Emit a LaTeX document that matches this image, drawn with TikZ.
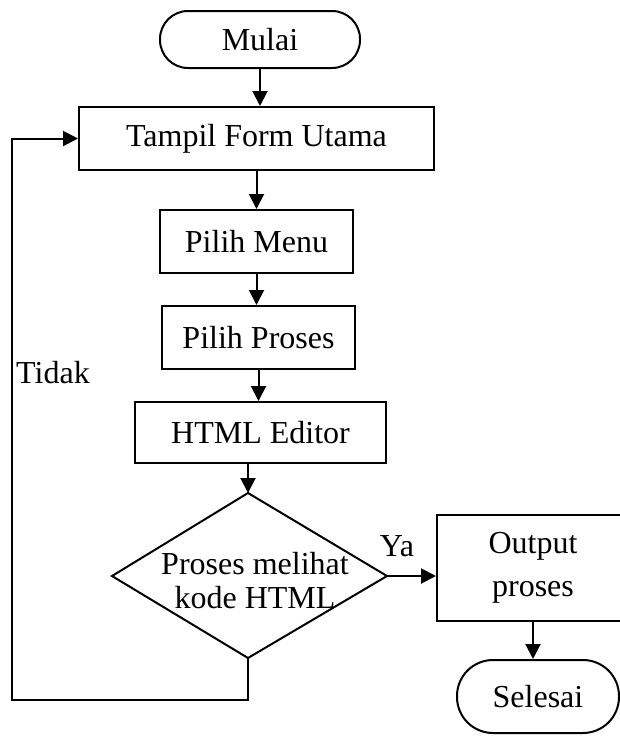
\documentclass[tikz,border=0pt]{standalone}
\usepackage{fontspec}
\setmainfont{Liberation Serif}
\usetikzlibrary{arrows.meta}
\begin{document}
\begin{tikzpicture}[x=1pt,y=-1pt,
  every node/.style={font=\fontsize{32pt}{38pt}\selectfont, inner sep=0pt},
  procbox/.style={draw, line width=2pt, rectangle},
  termbox/.style={draw, line width=2pt, rectangle, rounded corners=28pt},
  flow/.style={line width=2pt, -{Triangle[length=15pt,width=15pt]}},
  plain/.style={line width=2pt}]
\useasboundingbox (0,0) rectangle (620,736);
\node[termbox, minimum width=200pt, minimum height=57pt] (mulai) at (260,39.5) {Mulai};
\node[procbox, minimum width=355pt, minimum height=63pt] (tampil) at (256.5,138.5) {Tampil Form Utama};
\node[procbox, minimum width=193pt, minimum height=63pt] (menu) at (256.5,241.5) {Pilih Menu};
\node[procbox, minimum width=193pt, minimum height=63pt] (proses) at (258.5,337.5) {Pilih Proses};
\node[procbox, minimum width=251pt, minimum height=61pt] (html) at (260.5,432.5) {HTML Editor};
\coordinate (dT) at (248,493);
\coordinate (dR) at (387,576);
\coordinate (dB) at (248,658);
\coordinate (dL) at (112,576);
\draw[plain, line join=miter] (dT) -- (dR) -- (dB) -- (dL) -- cycle;
\node[align=center, font=\fontsize{32pt}{34pt}\selectfont] (dec) at (255,581) {Proses melihat\\kode HTML};
\node[procbox, minimum width=192pt, minimum height=106pt, align=center, font=\fontsize{32pt}{43pt}\selectfont] (output) at (533,568) {Output\\proses};
\node[termbox, rounded corners=36pt, minimum width=162pt, minimum height=73pt] (selesai) at (538,696.5) {Selesai};
\node (ya) at (397,546) {Ya};
\node (tidak) at (53,373) {Tidak};
\coordinate (lc1) at (248,700);
\coordinate (lc2) at (12,700);
\draw[flow] (mulai.south) -- (mulai.south |- tampil.north);
\draw[flow] (menu.north |- tampil.south) -- (menu.north);
\draw[flow] (menu.south) -- (menu.south |- proses.north);
\draw[flow] (proses.south) -- (proses.south |- html.north);
\draw[flow] (dT |- html.south) -- (dT);
\draw[flow] (dR) -- (dR -| output.west);
\draw[flow] (output.south) -- (output.south |- selesai.north);
\draw[flow] (dB) -- (lc1) -- (lc2) -- (lc2 |- tampil.west) -- (tampil.west);
\end{tikzpicture}
\end{document}
